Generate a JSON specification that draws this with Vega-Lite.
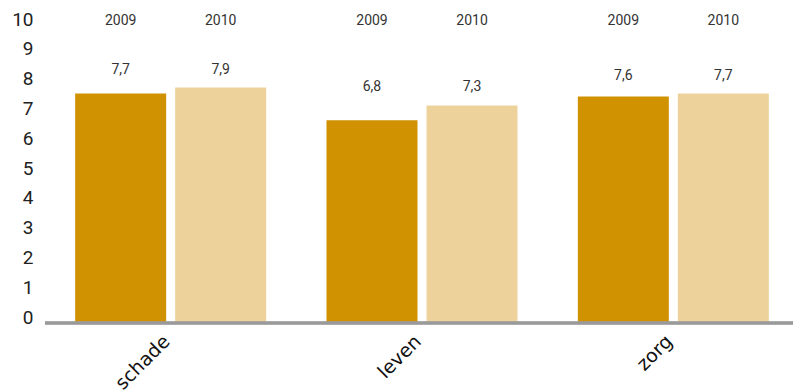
{
  "$schema": "https://vega.github.io/schema/vega-lite/v6.json",
  "width": 748,
  "height": 298,
  "autosize": {"type": "none"},
  "padding": {"left": 45, "top": 25, "right": 0, "bottom": 69},
  "background": "white",
  "config": {
    "view": {"stroke": null},
    "locale": {"number": {"decimal": ",", "thousands": ".", "grouping": [3], "currency": ["€", ""]}},
    "axisX": {"title": null, "domain": false, "ticks": false, "grid": false, "labelAngle": -45, "labelAlign": "right", "labelBaseline": "middle", "labelFontSize": 19, "labelFont": "DejaVu Sans", "labelColor": "#111", "labelPadding": 15, "labelOffset": -4},
    "axisY": {"title": null, "domain": false, "ticks": false, "tickSize": 0, "grid": false, "tickCount": 10, "labelOverlap": false, "labelFontSize": 19, "labelFont": "Roboto", "labelColor": "#222", "labelBaseline": "alphabetic", "labelPadding": 12, "labelFlush": false}
  },
  "data": {
    "values": [
      {"cat": "schade", "year": "2009", "value": 7.7},
      {"cat": "schade", "year": "2010", "value": 7.9},
      {"cat": "leven", "year": "2009", "value": 6.8},
      {"cat": "leven", "year": "2010", "value": 7.3},
      {"cat": "zorg", "year": "2009", "value": 7.6},
      {"cat": "zorg", "year": "2010", "value": 7.7}
    ]
  },
  "transform": [
    {"joinaggregate": [{"op": "max", "field": "value", "as": "groupMax"}], "groupby": ["cat"]}
  ],
  "layer": [
    {
      "mark": {"type": "bar"},
      "encoding": {
        "x": {
          "field": "cat", "type": "nominal", "sort": ["schade", "leven", "zorg"], "title": null,
          "scale": {"range": [0, 754], "paddingInner": 0, "paddingOuter": 0}
        },
        "xOffset": {
          "field": "year", "type": "nominal",
          "scale": {"paddingInner": 0.09, "paddingOuter": 0.3015}
        },
        "y": {
          "field": "value", "type": "quantitative", "title": null,
          "scale": {"domain": [0, 10], "nice": false}
        },
        "color": {
          "field": "year", "type": "nominal",
          "scale": {"domain": ["2009", "2010"], "range": ["#D09200", "#EDD39B"]},
          "legend": null
        }
      }
    },
    {
      "mark": {"type": "text", "dy": -18, "baseline": "middle", "font": "Roboto", "fontSize": 14, "color": "#333"},
      "encoding": {
        "x": {"field": "cat", "type": "nominal", "sort": ["schade", "leven", "zorg"], "title": null},
        "xOffset": {"field": "year", "type": "nominal"},
        "y": {"field": "groupMax", "type": "quantitative", "title": null},
        "text": {"field": "value", "type": "quantitative", "format": ".1f"}
      }
    },
    {
      "mark": {"type": "text", "dy": -4, "baseline": "middle", "font": "Roboto", "fontSize": 14, "color": "#333"},
      "encoding": {
        "x": {"field": "cat", "type": "nominal", "sort": ["schade", "leven", "zorg"], "title": null},
        "xOffset": {"field": "year", "type": "nominal"},
        "y": {"datum": 10, "title": null},
        "text": {"field": "year"}
      }
    },
    {
      "mark": {"type": "rule", "color": "#9a9a9a", "strokeWidth": 2.5},
      "encoding": {"y": {"datum": 0, "title": null}}
    }
  ]
}
